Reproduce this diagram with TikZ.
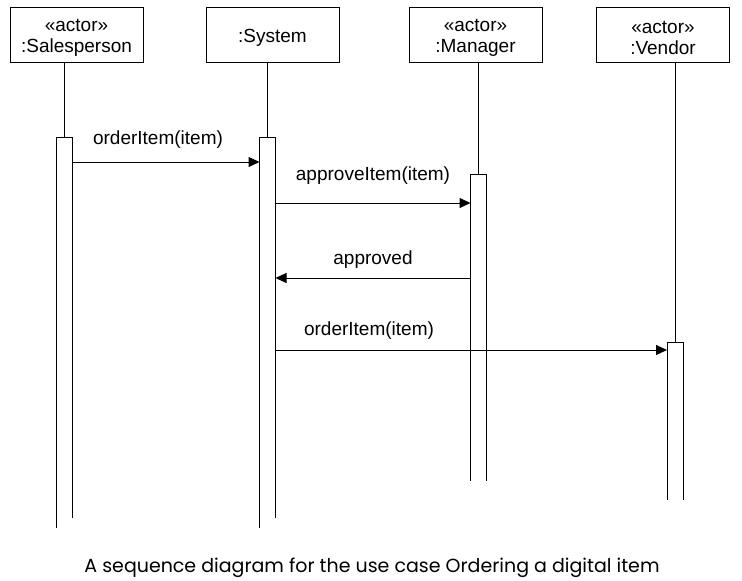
\documentclass[tikz,border=0pt]{standalone}
\usepackage{fontspec}
\setmainfont{Liberation Sans}
\newfontfamily\capfont{Poppins}
\usetikzlibrary{arrows.meta,calc}

\begin{document}
\begin{tikzpicture}[
    x=1pt, y=-1pt,
    head/.style={rectangle, draw, minimum width=133pt, minimum height=55pt, inner sep=0pt},
    headtext/.style={align=center, inner sep=0pt, font=\fontsize{19}{21}\selectfont},
    bar/.style={rectangle, minimum width=15pt, anchor=north, inner sep=0pt},
    msg/.style={-{Triangle[length=11pt,width=10pt]}},
    lbl/.style={inner sep=0pt, font=\fontsize{19}{21}\selectfont},
    line width=1pt
]
    \useasboundingbox (0,0) rectangle (742,581);

    % lifeline heads
    \node[head] (sales) at (76.5,34.5) {};
    \node[head] (sys) at (272.5,34.5) {};
    \node[head] (mgr) at (475.5,34.5) {};
    \node[head] (vend) at (663,34.5) {};
    \node[headtext] (salest) at ([yshift=-3pt]sales.center) {«actor»\\:Salesperson};
    \node[headtext] (syst) at ([yshift=-3pt]sys.center) {:System};
    \node[headtext] (mgrt) at ([yshift=-3pt]mgr.center) {«actor»\\:Manager};
    \node[headtext] (vendt) at ([yshift=-3pt]vend.center) {«actor»\\:Vendor};

    % activation bars
    \node[bar, minimum height=380pt] (salesbar) at (64.5,137) {};
    \node[bar, minimum height=380pt] (sysbar) at (267.5,137) {};
    \node[bar, minimum height=306pt] (mgrbar) at (478.5,174) {};
    \node[bar, minimum height=157pt] (vendbar) at (675,342) {};

    \draw (sales.south -| salesbar.north) -- (salesbar.north);
    \draw (sys.south -| sysbar.north) -- (sysbar.north);
    \draw (mgr.south -| mgrbar.north) -- (mgrbar.north);
    \draw (vend.south -| vendbar.north) -- (vendbar.north);

    \foreach \b in {salesbar,sysbar}
        \draw ([yshift=-10pt]\b.south west) -- (\b.north west) -- (\b.north east) -- (\b.south east);
    \foreach \b in {mgrbar,vendbar}
        \draw (\b.south west) -- (\b.north west) -- (\b.north east) -- (\b.south east);

    % messages
    \coordinate (m1) at (0,162);
    \coordinate (m2) at (0,203);
    \coordinate (m3) at (0,278);
    \coordinate (m4) at (0,350);
    \draw[msg] (salesbar.east |- m1) -- (sysbar.west |- m1);
    \draw[msg] (sysbar.east |- m2) -- (mgrbar.west |- m2);
    \draw[msg] (mgrbar.west |- m3) -- (sysbar.east |- m3);
    \draw[msg] (sysbar.east |- m4) -- (vendbar.west |- m4);

    \node[lbl] (l1) at (158,140) {orderItem(item)};
    \node[lbl] (l2) at (373,176) {approveItem(item)};
    \node[lbl] (l3) at (373,260) {approved};
    \node[lbl] (l4) at (369,331) {orderItem(item)};

    \node[anchor=base, inner sep=0pt, font=\capfont\fontsize{19}{22}\selectfont] (cap) at (372,572) {A sequence diagram for the use case Ordering a digital item};
\end{tikzpicture}
\end{document}
